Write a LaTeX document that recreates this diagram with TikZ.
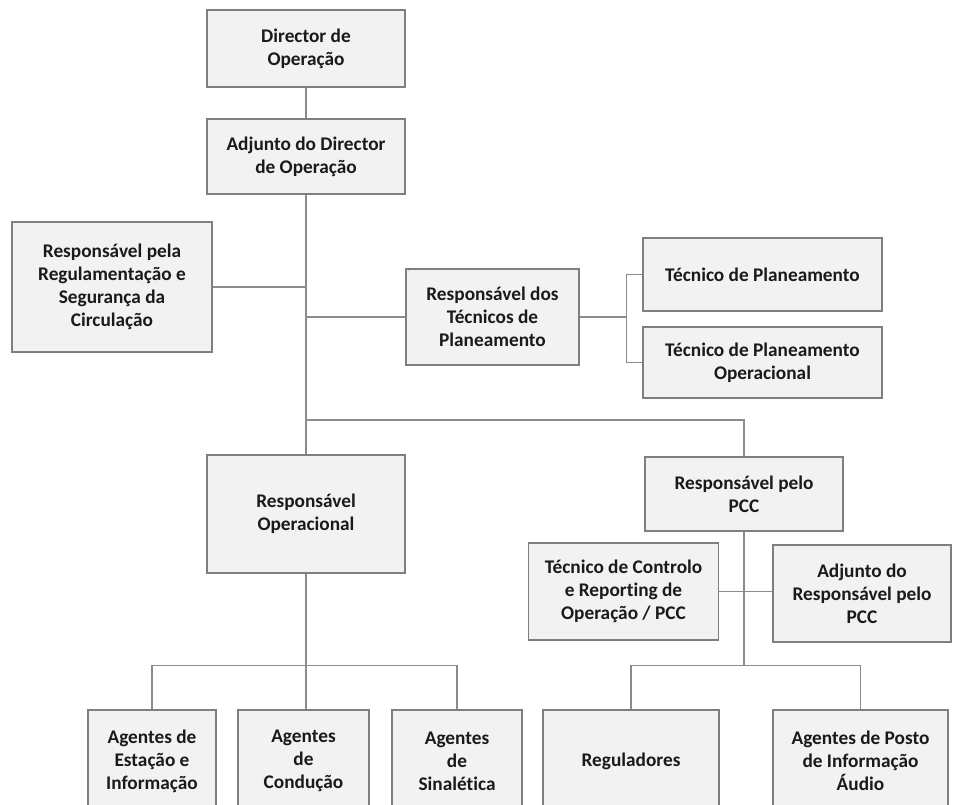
\documentclass[tikz,border=0pt]{standalone}
\usepackage{fontspec}
\setmainfont[Ligatures={NoCommon}]{Carlito}
\definecolor{fundo}{HTML}{F2F2F2}
\definecolor{borda}{HTML}{7F7F7F}
\definecolor{linha}{HTML}{8C8C8C}
\definecolor{letra}{HTML}{1A1A1A}
\begin{document}
\begin{tikzpicture}[x=1pt,y=-1pt,
    caixa/.style 2 args={draw=borda,fill=fundo,line width=1.3pt,align=center,inner sep=0pt,
      minimum width=#1,minimum height=#2,text=letra,font=\fontsize{19.3}{23}\selectfont\bfseries},
    liga/.style={draw=linha,line width=1.3pt}]
    \useasboundingbox (0,0) rectangle (953,805);
    \clip (0,0) rectangle (953,805);
    \node[caixa={198}{77}] (dir) at (306,48.5) {Director de\\Operação};
    \node[caixa={198}{75}] (adj) at (306,156.5) {Adjunto do Director\\de Operação};
    \node[caixa={200}{130}] (reg) at (112,287) {Responsável pela\\Regulamentação e\\Segurança da\\Circulação};
    \node[caixa={173}{96}] (tec) at (492.5,317) {Responsável dos\\Técnicos de\\Planeamento};
    \node[font=\tiny,text=letra,inner sep=0pt] (ponto) at (409,271) {.};
    \node[caixa={239}{73}] (plan) at (762.5,274.5) {Técnico de Planeamento};
    \node[caixa={239}{71}] (planop) at (762.5,362.5) {Técnico de Planeamento\\Operacional};
    \node[caixa={198}{118}] (resop) at (306,514) {Responsável\\Operacional};
    \node[caixa={198}{74}] (pcc) at (744,494) {Responsável pelo\\PCC};
    \node[caixa={190}{97}] (ctrl) at (623.5,591.5) {Técnico de Controlo\\e Reporting de\\Operação / PCC};
    \node[caixa={178}{97}] (adjpcc) at (862,593.5) {Adjunto do\\Responsável pelo\\PCC};
    \node[caixa={128}{102}] (est) at (152,761) {Agentes de\\Estação e\\Informação};
    \node[caixa={131}{102}] (cond) at (303.5,761) {Agentes\\de\\Condução};
    \node[caixa={130}{102}] (sin) at (457,761) {Agentes\\de\\Sinalética};
    \node[caixa={176}{102}] (regul) at (631,761) {Reguladores};
    \node[caixa={175}{102}] (posto) at (860.5,761) {Agentes de Posto\\de Informação\\Áudio};
    \draw[liga] (dir) -- (adj);
    \draw[liga] (adj) -- (resop);
    \draw[liga] (reg.east) -- (reg.east -| adj.south);
    \draw[liga] (tec.west) -- (tec.west -| adj.south);
    \draw[liga] (tec.east) -- ++(47,0) coordinate (tecj);
    \draw[liga] (plan.west) -| (tecj) |- (planop.west);
    \draw[liga] (pcc.north) |- (adj.south |- 0,420);
    \draw[liga] (ctrl.east) -- (ctrl.east -| adjpcc.west);
    \draw[liga] (pcc.south) -- (pcc.south |- 0,666);
    \draw[liga] (resop.south) -- (resop.south |- cond.north);
    \draw[liga] (est.north) -- ++(0,-44) -| (sin.north);
    \draw[liga] (regul.north) -- ++(0,-44) -| (posto.north);
\end{tikzpicture}
\end{document}
